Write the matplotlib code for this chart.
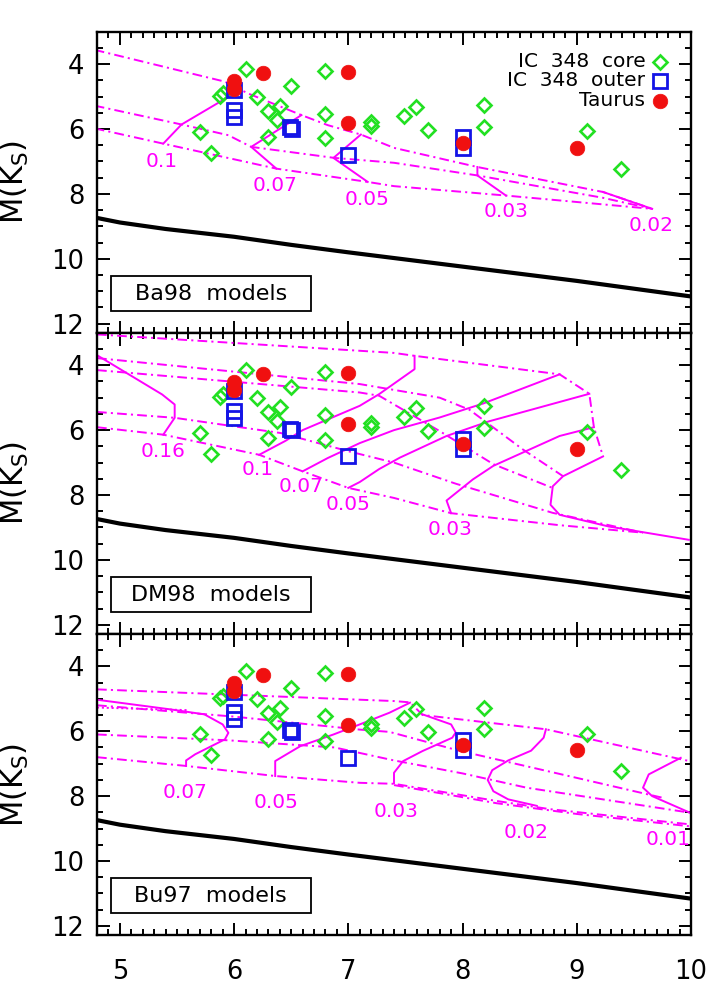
import matplotlib
matplotlib.use('Agg')
import matplotlib.pyplot as plt
from matplotlib.patches import Rectangle
from matplotlib.ticker import MultipleLocator

plt.rcParams['font.family'] = ['DejaVu Sans']
plt.rcParams['lines.scale_dashes'] = False
plt.rcParams['mathtext.fontset'] = 'dejavusans'

# ---------------- observed data ----------------
core_x = [6.1, 5.88, 5.9, 6.2, 6.5, 6.4, 6.3, 6.38, 6.8, 6.8, 6.8, 6.3, 5.7, 5.8,
          7.2, 7.2, 7.49, 7.59, 7.7, 8.19, 8.19, 9.09, 9.39]
core_y = [4.14, 4.97, 4.90, 5.0, 4.67, 5.28, 5.45, 5.72, 4.21, 5.54, 6.29, 6.24, 6.09, 6.74,
          5.78, 5.90, 5.60, 5.33, 6.03, 5.27, 5.93, 6.07, 7.24]
outer_x = [6.0, 6.0, 6.0, 6.49, 6.51, 7.0, 8.0, 8.0]
outer_y = [4.80, 5.42, 5.62, 5.95, 6.01, 6.81, 6.26, 6.57]
taurus_x = [6.0, 6.0, 6.25, 7.0, 7.0, 8.0, 9.0]
taurus_y = [4.52, 4.76, 4.27, 4.25, 5.81, 6.43, 6.58]

# limit line (black)
limit_x = [4.8, 5.0, 5.4, 6.0, 6.5, 7.0, 7.5, 8.0, 8.5, 9.0, 9.5, 10.0]
limit_y = [8.74, 8.88, 9.08, 9.32, 9.57, 9.80, 10.02, 10.24, 10.46, 10.68, 10.92, 11.16]

# ---------------- Ba98 models ----------------
ba_iso1_x = [4.78, 5.92, 6.12, 6.59, 6.82, 7.11, 7.40, 8.13, 9.23, 9.66]
ba_iso1_y = [3.56, 4.54, 4.90, 5.57, 5.88, 6.17, 6.58, 7.17, 7.94, 8.46]
ba_iso2_x = [4.78, 5.54, 5.95, 6.15, 6.88, 7.40, 8.13, 9.23, 9.66]
ba_iso2_y = [5.28, 5.86, 6.19, 6.55, 6.89, 7.04, 7.43, 8.12, 8.46]
ba_iso3_x = [4.78, 5.38, 6.37, 7.17, 7.40, 8.38, 9.66]
ba_iso3_y = [5.98, 6.45, 7.22, 7.63, 7.76, 8.05, 8.46]
ba_m010_x = [5.38, 5.54, 5.93]
ba_m010_y = [6.45, 5.86, 5.05]
ba_m007_x = [6.37, 6.15, 6.59]
ba_m007_y = [7.22, 6.55, 5.57]
ba_m005_x = [7.17, 6.87, 7.11]
ba_m005_y = [7.63, 6.89, 6.17]
ba_m003_x = [8.38, 8.13, 8.13]
ba_m003_y = [8.05, 7.43, 7.17]
ba_m002_x = [9.23, 9.66]
ba_m002_y = [7.94, 8.46]
ba_lab_text = ['0.1', '0.07', '0.05', '0.03', '0.02']
ba_lab_x = [5.37, 6.36, 7.16, 8.38, 9.65]
ba_lab_y = [7.00, 7.74, 8.17, 8.53, 8.98]

# ---------------- DM98 models ----------------
dm_iso1_x = [4.80, 7.40, 7.58, 8.85, 9.11, 9.15, 9.23]
dm_iso1_y = [3.05, 3.62, 3.71, 4.28, 4.88, 5.91, 6.81]
dm_iso2_x = [4.80, 7.10, 7.80, 8.06, 8.32, 8.53, 8.88]
dm_iso2_y = [3.78, 4.58, 5.00, 5.37, 6.05, 6.60, 7.42]
dm_iso3_x = [4.80, 7.10, 7.27, 7.80, 8.27, 8.78]
dm_iso3_y = [4.15, 4.84, 4.94, 6.03, 7.05, 7.77]
dm_iso4_x = [4.80, 5.48, 6.41, 7.00, 7.40, 7.94, 8.79, 9.58]
dm_iso4_y = [5.44, 5.62, 6.09, 6.65, 7.00, 7.65, 8.55, 9.16]
dm_iso5_x = [4.80, 5.38, 6.22, 6.60, 7.00, 7.40, 7.90, 8.85, 9.58]
dm_iso5_y = [5.91, 6.14, 6.76, 7.27, 7.78, 8.09, 8.56, 8.93, 9.16]
dm_m016_x = [4.80, 5.37, 5.48, 5.48, 5.38]
dm_m016_y = [3.69, 4.90, 5.21, 5.62, 6.14]
dm_m010_x = [6.22, 6.45, 6.60, 7.10, 7.27, 7.58, 7.58]
dm_m010_y = [6.76, 6.33, 6.00, 5.25, 4.89, 4.12, 3.71]
dm_m007_x = [6.60, 6.82, 7.10, 7.40, 7.80, 8.18, 8.85]
dm_m007_y = [7.27, 6.86, 6.40, 6.00, 5.61, 5.18, 4.28]
dm_m005_x = [7.00, 7.10, 7.27, 7.45, 7.86, 8.23, 9.11]
dm_m005_y = [7.78, 7.60, 7.20, 6.85, 6.18, 5.73, 4.88]
dm_m003_x = [7.90, 7.86, 8.09, 8.27, 8.85, 9.15]
dm_m003_y = [8.56, 8.17, 7.52, 7.10, 6.18, 5.91]
dm_m002_x = [9.23, 8.88, 8.79, 8.77, 8.85, 9.28, 9.98]
dm_m002_y = [6.81, 7.42, 7.73, 8.30, 8.61, 8.97, 9.38]
dm_lab_text = ['0.16', '0.1', '0.07', '0.05', '0.03']
dm_lab_x = [5.38, 6.21, 6.59, 7.00, 7.89]
dm_lab_y = [6.65, 7.22, 7.73, 8.30, 9.05]

# ---------------- Bu97 models ----------------
bu_iso1_x = [4.80, 7.40, 7.54, 7.65, 8.73, 9.92, 10.0]
bu_iso1_y = [4.71, 5.07, 5.11, 5.50, 5.94, 6.87, 6.93]
bu_iso2_x = [4.80, 6.00, 7.10, 7.36, 7.97, 8.99, 9.75]
bu_iso2_y = [5.20, 5.55, 5.95, 6.02, 6.60, 7.43, 8.05]
bu_iso3_x = [4.80, 5.95, 6.88, 7.40, 8.00, 8.56, 9.99]
bu_iso3_y = [6.10, 6.28, 6.50, 6.90, 7.30, 7.74, 8.51]
bu_iso4_x = [4.80, 5.58, 6.36, 7.10, 7.40, 8.30, 8.76, 9.99]
bu_iso4_y = [6.80, 7.07, 7.38, 7.59, 7.62, 8.15, 8.40, 8.87]
bu_iso5_x = [7.40, 8.30, 9.00, 9.99]
bu_iso5_y = [7.66, 8.22, 8.55, 8.93]
bu_dot_x = [4.80, 5.60]
bu_dot_y = [5.27, 5.35]
bu_m007_x = [4.78, 5.45, 5.74, 5.90, 5.95, 5.92, 5.66, 5.58, 5.58]
bu_m007_y = [5.02, 5.33, 5.48, 5.79, 6.05, 6.25, 6.71, 6.90, 7.07]
bu_m005_x = [6.36, 6.36, 6.46, 6.58, 6.87, 7.10, 7.36, 7.54]
bu_m005_y = [7.38, 6.92, 6.71, 6.46, 6.10, 5.79, 5.43, 5.12]
bu_m003_x = [7.65, 7.90, 7.94, 7.91, 7.65, 7.48, 7.40, 7.40]
bu_m003_y = [5.48, 5.79, 6.04, 6.20, 6.61, 6.92, 7.28, 7.60]
bu_m002_x = [8.73, 8.71, 8.60, 8.40, 8.26, 8.22, 8.27, 8.40, 8.65]
bu_m002_y = [5.94, 6.20, 6.60, 6.90, 7.20, 7.50, 7.85, 8.10, 8.30]
bu_m001_x = [9.91, 9.63, 9.58, 9.66, 9.99]
bu_m001_y = [6.82, 7.33, 7.74, 8.00, 8.51]
bu_lab_text = ['0.07', '0.05', '0.03', '0.02', '0.01']
bu_lab_x = [5.57, 6.37, 7.42, 8.56, 9.80]
bu_lab_y = [7.90, 8.21, 8.46, 9.13, 9.34]

panel_names = ['Ba98  models', 'DM98  models', 'Bu97  models']
legend_text = ['IC  348  core', 'IC  348  outer', 'Taurus']

panels = [
    dict(isos=[(ba_iso1_x, ba_iso1_y), (ba_iso2_x, ba_iso2_y), (ba_iso3_x, ba_iso3_y)],
         tracks=[(ba_m010_x, ba_m010_y), (ba_m007_x, ba_m007_y), (ba_m005_x, ba_m005_y),
                 (ba_m003_x, ba_m003_y), (ba_m002_x, ba_m002_y)],
         dots=[],
         labels=(ba_lab_text, ba_lab_x, ba_lab_y)),
    dict(isos=[(dm_iso1_x, dm_iso1_y), (dm_iso2_x, dm_iso2_y), (dm_iso3_x, dm_iso3_y),
               (dm_iso4_x, dm_iso4_y), (dm_iso5_x, dm_iso5_y)],
         tracks=[(dm_m016_x, dm_m016_y), (dm_m010_x, dm_m010_y), (dm_m007_x, dm_m007_y),
                 (dm_m005_x, dm_m005_y), (dm_m003_x, dm_m003_y), (dm_m002_x, dm_m002_y)],
         dots=[],
         labels=(dm_lab_text, dm_lab_x, dm_lab_y)),
    dict(isos=[(bu_iso1_x, bu_iso1_y), (bu_iso2_x, bu_iso2_y), (bu_iso3_x, bu_iso3_y),
               (bu_iso4_x, bu_iso4_y), (bu_iso5_x, bu_iso5_y)],
         tracks=[(bu_m007_x, bu_m007_y), (bu_m005_x, bu_m005_y), (bu_m003_x, bu_m003_y),
                 (bu_m002_x, bu_m002_y), (bu_m001_x, bu_m001_y)],
         dots=[(bu_dot_x, bu_dot_y)],
         labels=(bu_lab_text, bu_lab_x, bu_lab_y)),
]

MAG = '#ff00ff'
GREEN = '#22e022'
BLUE = '#1414e6'
RED = '#f01010'
DASHDOT = (0, (7.0, 3.0, 1.5, 3.0))

fig = plt.figure(figsize=(7.2, 9.97), dpi=100)
left, width = 97 / 720, 594 / 720
h = 0.302
bottoms = [0.6662, 0.3642, 0.0622]

diamond_kw = dict(marker='D', ms=7.6, mfc='none', mec=GREEN, mew=1.9, ls='none')
square_kw = dict(marker='s', ms=9.5, mfc='none', mec=BLUE, mew=2.0, ls='none')
circle_kw = dict(marker='o', ms=10.5, mfc=RED, mec=RED, mew=0.5, ls='none')

for i, (p, b) in enumerate(zip(panels, bottoms)):
    ax = fig.add_axes([left, b, width, h])
    ax.set_xlim(4.8, 10.0)
    ax.set_ylim(12.28, 3.0)

    for xs, ys in p['isos']:
        ax.plot(xs, ys, color=MAG, lw=1.4, linestyle=DASHDOT, zorder=2)
    for xs, ys in p['dots']:
        ax.plot(xs, ys, color=MAG, lw=1.4, linestyle=(0, (1.5, 2.0)), zorder=2)
    for xs, ys in p['tracks']:
        ax.plot(xs, ys, color=MAG, lw=1.4, linestyle='-', zorder=2)
    txt, lx, ly = p['labels']
    for t, x, y in zip(txt, lx, ly):
        ax.text(x, y, t, color=MAG, fontsize=14.5, ha='center', va='center', zorder=3)

    ax.plot(limit_x, limit_y, color='black', lw=3.0, zorder=2)

    ax.plot(core_x, core_y, zorder=4, **diamond_kw)
    ax.plot(outer_x, outer_y, zorder=5, **square_kw)
    ax.plot(taurus_x, taurus_y, zorder=6, **circle_kw)

    # model name box
    ax.add_patch(Rectangle((4.92, 10.53), 1.75, 1.07, fill=False, ec='black', lw=1.3, zorder=3))
    ax.text(5.795, 11.07, panel_names[i], fontsize=16, ha='center', va='center', zorder=3)

    if i == 0:
        ly_leg = [3.92, 4.51, 5.13]
        for t, yy in zip(legend_text, ly_leg):
            ax.text(9.60, yy, t, fontsize=14.5, ha='right', va='center')
        ax.plot([9.73], [ly_leg[0]], **diamond_kw)
        ax.plot([9.73], [ly_leg[1]], **square_kw)
        ax.plot([9.73], [ly_leg[2]], **circle_kw)

    ax.xaxis.set_major_locator(MultipleLocator(1))
    ax.xaxis.set_minor_locator(MultipleLocator(0.1))
    ax.yaxis.set_major_locator(MultipleLocator(2))
    ax.yaxis.set_minor_locator(MultipleLocator(0.5))
    ax.tick_params(which='both', direction='in', top=True, right=True, width=1.4,
                   labelsize=18.5)
    ax.tick_params(which='major', length=9)
    ax.tick_params(which='minor', length=4.5)
    ax.tick_params(axis='y', pad=9)
    ax.tick_params(axis='x', pad=17)
    if i < 2:
        ax.tick_params(axis='x', labelbottom=False)
    for s in ax.spines.values():
        s.set_linewidth(1.7)

    fig.text(0.021, b + h / 2, r'M(K$_\mathrm{S}$)', rotation=90, fontsize=22,
             ha='center', va='center')

fig.savefig('out.png', dpi=100)
